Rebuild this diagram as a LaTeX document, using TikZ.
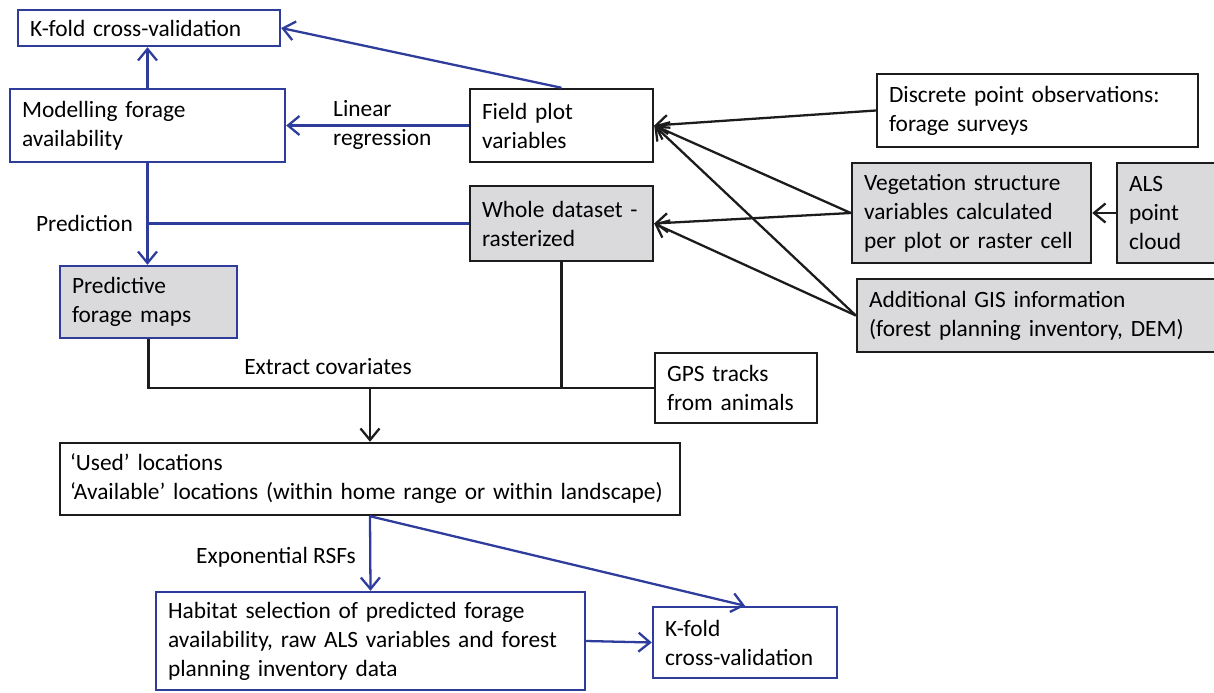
\documentclass[tikz,border=0pt]{standalone}
\usepackage{fontspec}
\setmainfont{Carlito}
\usetikzlibrary{arrows.meta, positioning}
\definecolor{flowblue}{HTML}{2E3D9C}
\definecolor{boxgray}{HTML}{DADADC}
\definecolor{inkblack}{HTML}{1C1C1C}
\hyphenpenalty=10000
\exhyphenpenalty=10000

\begin{document}
\begin{tikzpicture}[x=0.02cm, y=-0.02cm,
  every node/.style={font=\fontsize{13.3}{16.5}\selectfont, inner ysep=1pt},
  box/.style={draw=inkblack, line width=1.4pt, fill=white, align=left, inner xsep=0.24cm},
  bluebox/.style={box, draw=flowblue},
  graybox/.style={box, fill=boxgray},
  link/.style={line width=1.3pt, draw=inkblack},
  bluelink/.style={link, draw=flowblue},
  tip/.style={-{Straight Barb[length=2.3mm, width=3.8mm]}}
]
  \useasboundingbox[fill=white] (0,0) rectangle (1214,693);

  % Forage model (top left)
  \node[bluebox, minimum width=5.24cm, text width=4.76cm, minimum height=0.72cm] (kfold1) at (149,28) {K-fold cross-validation};
  \node[bluebox, minimum width=5.5cm, text width=5.02cm, minimum height=1.46cm] (model) at (147.5,125.5) {Modelling forage\\availability};
  \node[bluebox, fill=boxgray, minimum width=3.54cm, text width=3.06cm, minimum height=1.44cm] (pred) at (148.5,302) {Predictive\\forage maps};

  % Data sources
  \node[box, minimum width=3.66cm, text width=3.18cm, minimum height=1.46cm] (field) at (561.5,125.5) {Field plot\\variables};
  \node[graybox, minimum width=3.66cm, text width=3.18cm, minimum height=1.5cm] (whole) at (561.5,223.5) {Whole dataset~-\\rasterized};
  \node[box, minimum width=6.42cm, text width=5.94cm, minimum height=1.46cm] (discrete) at (1037.5,110.5) {Discrete point observations:\\forage surveys};
  \node[graybox, minimum width=4.78cm, text width=4.30cm, minimum height=2.0cm] (veg) at (971.5,213) {Vegetation structure\\variables calculated\\per plot or raster cell};
  \node[graybox, minimum width=2.26cm, text width=1.78cm, minimum height=2.0cm] (als) at (1173.5,213) {ALS\\point\\cloud};
  \node[graybox, minimum width=7.46cm, text width=6.98cm, minimum height=1.46cm] (gis) at (1043.5,315.5) {Additional GIS information\\(forest planning inventory, DEM)};
  \node[box, minimum width=3.24cm, text width=2.76cm, minimum height=1.4cm] (gps) at (736,388) {GPS tracks\\from animals};

  % Habitat selection (bottom)
  \node[box, inner xsep=0.2cm, minimum width=12.4cm, text width=12.0cm, minimum height=1.44cm] (used) at (370,479) {‘Used’ locations\\‘Available’ locations (within home range or within landscape)};
  \node[bluebox, minimum width=8.58cm, text width=8.10cm, minimum height=1.96cm] (habitat) at (370.5,641) {Habitat selection of predicted forage\\availability, raw ALS variables and forest\\planning inventory data};
  \node[bluebox, minimum width=3.68cm, text width=3.20cm, minimum height=1.42cm] (kfold2) at (745,642.5) {K-fold\\cross-validation};

  % Labels
  \node[anchor=west, align=left] (linreg) at (327,125) {Linear\\regression};
  \node[anchor=east] (predlabel) at (139,223) {Prediction};
  \node (extract) at (328,367) {Extract covariates};
  \node[anchor=east] (rsf) at (362,557) {Exponential RSFs};

  % Blue connectors
  \draw[bluelink, tip] (model.north) -- (model.north |- kfold1.south);
  \draw[bluelink, tip] (field.north) -- (kfold1.east);
  \draw[bluelink, tip] (field.west) -- (model.east);
  \draw[bluelink, tip] (model.south) -- (model.south |- pred.north);
  \draw[bluelink] (whole.west) -- (whole.west -| model.south);
  \draw[bluelink, tip] (used.south) -- (habitat.north);
  \draw[bluelink, tip] (used.south) -- (kfold2.north);
  \draw[bluelink, tip] (habitat.east) -- (kfold2.west);

  % Black connectors
  \draw[link, tip] (discrete.west) -- (field.east);
  \draw[link, tip] (veg.west) -- (field.east);
  \draw[link, tip] (veg.west) -- (whole.east);
  \draw[link, tip] (gis.west) -- (field.east);
  \draw[link, tip] (gis.west) -- (whole.east);
  \draw[link, tip] (als.west) -- (veg.east);
  \coordinate (join) at (used.north |- gps.west);
  \draw[link] (pred.south) |- (gps.west);
  \draw[link] (whole.south) -- (whole.south |- gps.west);
  \draw[link, tip] (join) -- (used.north);
\end{tikzpicture}
\end{document}
